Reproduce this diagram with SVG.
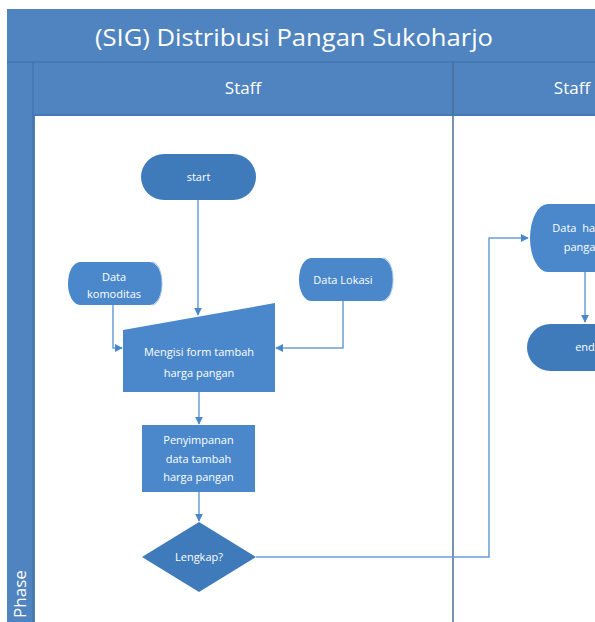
<svg xmlns="http://www.w3.org/2000/svg" width="595" height="622" viewBox="0 0 595 622">
<defs>
<style>
.band{fill:#4f84c0;}
.hdr{fill:#ffffff;font-family:"Open Sans","Liberation Sans",sans-serif;text-anchor:middle;}
.node{fill:#4a88cb;}
.dark{fill:#3f7bbb;}
.lbl{fill:#ffffff;font-family:"Open Sans","Liberation Sans",sans-serif;font-size:11px;text-anchor:middle;}
.conn{fill:none;stroke:#6a9fd6;stroke-width:1.5;}
</style>
<marker id="arr" viewBox="0 0 10 10" refX="9" refY="5" markerWidth="8" markerHeight="8" markerUnits="userSpaceOnUse" orient="auto">
<path d="M0,0 L10,5 L0,10 Z" fill="#4a88cb"/>
</marker>
</defs>
<rect width="595" height="622" fill="#ffffff"/>
<g id="pool">
<rect x="7" y="9" width="600" height="620" class="band"/>
<rect x="35" y="116" width="580" height="510" fill="#ffffff"/>
<line x1="7" y1="62" x2="600" y2="62" stroke="#3f6fa6" stroke-width="1"/>
<line x1="33" y1="62" x2="33" y2="622" stroke="#3f6fa6" stroke-width="1"/>
<line x1="33" y1="115" x2="600" y2="115" stroke="#3f6fa6" stroke-width="1"/>
<line x1="453" y1="62" x2="453" y2="622" stroke="#4a6f9a" stroke-width="1.5"/>
<text x="294" y="46" class="hdr" font-size="24" textLength="398" lengthAdjust="spacingAndGlyphs">(SIG) Distribusi Pangan Sukoharjo</text>
<text x="243" y="94" class="hdr" font-size="17">Staff</text>
<text x="572" y="94" class="hdr" font-size="17">Staff</text>
<text x="0" y="0" class="hdr" font-size="17" transform="translate(26,594) rotate(-90)">Phase</text>
</g>
<g id="connectors">
<path class="conn" d="M198,200 V315" marker-end="url(#arr)"/>
<path class="conn" d="M113,305 V348 H122" marker-end="url(#arr)"/>
<path class="conn" d="M343,301 V348 H276" marker-end="url(#arr)"/>
<path class="conn" d="M199,392 V424" marker-end="url(#arr)"/>
<path class="conn" d="M199,492 V521" marker-end="url(#arr)"/>
<path class="conn" d="M256,557 H489 V238 H528" marker-end="url(#arr)"/>
<path class="conn" d="M585,272 V322" marker-end="url(#arr)"/>
</g>
<g id="start">
<rect x="141" y="154" width="115" height="46" rx="23" class="dark"/>
<text x="198.5" y="181" class="lbl">start</text>
</g>
<g id="data-komoditas">
<path class="node" d="M80,262 H150 A12,21.5 0 0 1 150,305 H80 A12,21.5 0 0 1 80,262 Z"/>
<path d="M152,262 A10,21.5 0 0 1 152,305" fill="none" stroke="#9cc0e6" stroke-width="1"/>
<text x="114" y="281" class="lbl">Data</text>
<text x="114" y="298" class="lbl">komoditas</text>
</g>
<g id="data-lokasi">
<path class="node" d="M311,258 H381 A12,21.5 0 0 1 381,301 H311 A12,21.5 0 0 1 311,258 Z"/>
<path d="M383,258 A10,21.5 0 0 1 383,301" fill="none" stroke="#9cc0e6" stroke-width="1"/>
<text x="343" y="284" class="lbl">Data Lokasi</text>
</g>
<g id="mengisi-form">
<polygon class="node" points="123,330 275,303 275,392 123,392"/>
<text x="199" y="356" class="lbl">Mengisi form tambah</text>
<text x="199" y="377" class="lbl">harga pangan</text>
</g>
<g id="penyimpanan">
<rect x="142" y="425" width="113" height="67" class="node"/>
<text x="198.5" y="444" class="lbl">Penyimpanan</text>
<text x="198.5" y="463" class="lbl">data tambah</text>
<text x="198.5" y="481" class="lbl">harga pangan</text>
</g>
<g id="lengkap">
<polygon class="dark" points="199,522 256,557 199,592 142,557"/>
<text x="199" y="561" class="lbl">Lengkap?</text>
</g>
<g id="data-harga-pangan">
<path class="node" d="M548,204 H650 A16,34 0 0 0 650,272 H548 A18,34 0 0 1 548,204 Z"/>
<text x="582" y="232" class="lbl" word-spacing="3">Data harga</text>
<text x="583" y="251" class="lbl">pangan</text>
</g>
<g id="end">
<rect x="527" y="324" width="115" height="47" rx="23.5" class="dark"/>
<text x="585" y="351" class="lbl">end</text>
</g>
</svg>
